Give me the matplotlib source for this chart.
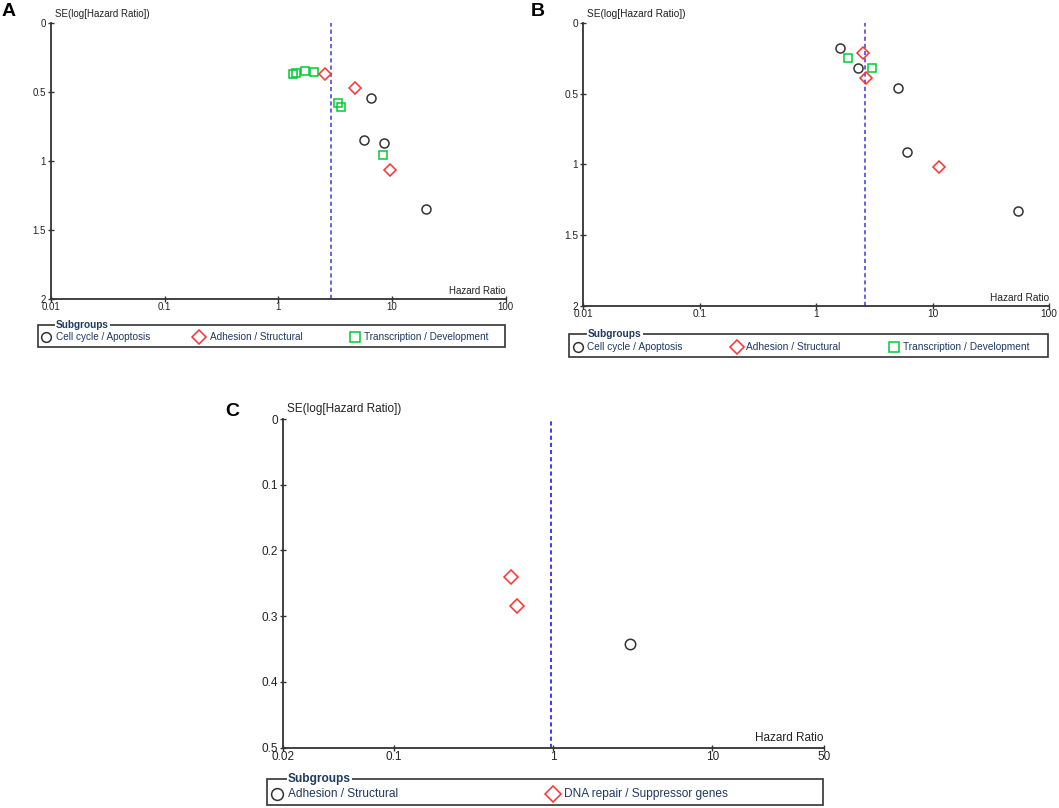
import matplotlib
matplotlib.use("Agg")
import matplotlib.pyplot as plt
from matplotlib.lines import Line2D
from matplotlib.patches import Rectangle

plt.rcParams["font.family"] = ["Liberation Sans", "DejaVu Sans"]

W, H = 1059, 808
TEXT_COL = "#222222"
LEG_COL = "#1f3864"
AX_COL = "#333333"

# ---- data ----
A_cell_hr = [6.58, 5.67, 8.56, 19.9]
A_cell_se = [0.543, 0.852, 0.871, 1.346]
A_adh_hr = [2.56, 4.73, 9.55]
A_adh_se = [0.374, 0.470, 1.069]
A_tr_hr = [1.355, 1.42, 1.71, 2.05, 3.33, 3.54, 8.34]
A_tr_se = [0.372, 0.362, 0.350, 0.355, 0.581, 0.610, 0.958]
A_pooled = 2.89

B_cell_hr = [1.61, 2.28, 5.09, 6.08, 54.5]
B_cell_se = [0.181, 0.320, 0.461, 0.911, 1.327]
B_adh_hr = [2.55, 2.69, 11.3]
B_adh_se = [0.212, 0.388, 1.019]
B_tr_hr = [1.87, 3.01]
B_tr_se = [0.249, 0.320]
B_pooled = 2.63

C_adh_hr = [3.02]
C_adh_se = [0.342]
C_dna_hr = [0.542, 0.597]
C_dna_se = [0.240, 0.2845]
C_pooled = 0.972

AB_xticks = [0.01, 0.1, 1, 10, 100]
AB_xlabels = ["0.01", "0.1", "1", "10", "100"]
AB_yticks = [0, 0.5, 1, 1.5, 2]
AB_ylabels = ["0", "0.5", "1", "1.5", "2"]
C_xticks = [0.02, 0.1, 1, 10, 50]
C_xlabels = ["0.02", "0.1", "1", "10", "50"]
C_yticks = [0, 0.1, 0.2, 0.3, 0.4, 0.5]
C_ylabels = ["0", "0.1", "0.2", "0.3", "0.4", "0.5"]

AB_groups = ["Cell cycle / Apoptosis", "Adhesion / Structural", "Transcription / Development"]
C_groups = ["Adhesion / Structural", "DNA repair / Suppressor genes"]

CIRCLE = dict(marker="o", mfc="none", mec="#333333", mew=1.1)
DIAMOND = dict(marker="D", mfc="none", mec="#ff3030", mew=1.1)
SQUARE = dict(marker="s", mfc="none", mec="#00cc33", mew=1.1)

fig = plt.figure(figsize=(W / 100, H / 100), dpi=100)


def px_axes(left, top, right, bottom):
    return fig.add_axes([left / W, 1 - bottom / H, (right - left) / W, (bottom - top) / H])


def funnel(ax, xlim, ylim, xticks, xlabels, yticks, ylabels, pooled, dash_col, fs):
    ax.set_xscale("log")
    ax.set_xlim(*xlim)
    ax.set_ylim(ylim[1], ylim[0])
    ax.set_xticks(xticks)
    ax.set_xticklabels(xlabels)
    ax.set_yticks(yticks)
    ax.set_yticklabels(ylabels)
    ax.minorticks_off()
    for s in ["top", "right"]:
        ax.spines[s].set_visible(False)
    for s in ["left", "bottom"]:
        ax.spines[s].set_color(AX_COL)
        ax.spines[s].set_linewidth(1.3)
    ax.tick_params(direction="inout", length=5, width=1.0, color=AX_COL,
                   labelsize=fs, labelcolor=TEXT_COL, pad=1)
    ax.tick_params(axis="x", pad=0)
    ax.patch.set_alpha(0)
    ax.axvline(pooled, color=dash_col, lw=1.2, ls=(0, (2.5, 1.8)), zorder=1)
    ax.text(0.008, 1.012, "SE(log[Hazard Ratio])", transform=ax.transAxes,
            ha="left", va="bottom", fontsize=fs, color=TEXT_COL)
    ax.text(1.0, 0.012, "Hazard Ratio", transform=ax.transAxes,
            ha="right", va="bottom", fontsize=fs, color=TEXT_COL)


# panel A
axA = px_axes(51, 22.7, 505.7, 299)
funnel(axA, (0.01, 100), (0, 2), AB_xticks, AB_xlabels, AB_yticks, AB_ylabels,
       A_pooled, "#4a4ae0", 7)
axA.plot(A_tr_hr, A_tr_se, ls="none", ms=5.5, **SQUARE)
axA.plot(A_adh_hr, A_adh_se, ls="none", ms=5.8, **DIAMOND)
axA.plot(A_cell_hr, A_cell_se, ls="none", ms=6.5, **CIRCLE)

# panel B
axB = px_axes(583, 22.7, 1049, 306)
funnel(axB, (0.01, 100), (0, 2), AB_xticks, AB_xlabels, AB_yticks, AB_ylabels,
       B_pooled, "#4a4ae0", 7.3)
axB.plot(B_tr_hr, B_tr_se, ls="none", ms=5.5, **SQUARE)
axB.plot(B_adh_hr, B_adh_se, ls="none", ms=5.8, **DIAMOND)
axB.plot(B_cell_hr, B_cell_se, ls="none", ms=6.5, **CIRCLE)

# panel C
axC = px_axes(282.5, 419, 823.8, 747.7)
funnel(axC, (0.02, 50), (0, 0.5), C_xticks, C_xlabels, C_yticks, C_ylabels,
       C_pooled, "#1a1aff", 8.5)
axC.plot(C_dna_hr, C_dna_se, ls="none", ms=7, **DIAMOND)
axC.plot(C_adh_hr, C_adh_se, ls="none", ms=7.5, **CIRCLE)

# overlay in pixel coordinates: panel letters + legend boxes
ov = fig.add_axes([0, 0, 1, 1])
ov.set_xlim(0, W)
ov.set_ylim(H, 0)
ov.axis("off")
ov.patch.set_alpha(0)

ov.text(2, 12, "A", fontsize=14, fontweight="bold", va="center", ha="left")
ov.text(531, 12, "B", fontsize=14, fontweight="bold", va="center", ha="left")
ov.text(225, 412, "C", fontsize=14, fontweight="bold", va="center", ha="left")


def draw_legend(x0, y0, x1, y1, title_x, mx_list, tx_list, labels, styles, fs, ms):
    ov.add_patch(Rectangle((x0, y0), x1 - x0, y1 - y0, fill=False,
                           ec="#333333", lw=1.2))
    ov.text(title_x, y0, "Subgroups", fontsize=fs, fontweight="bold", color=LEG_COL,
            ha="left", va="center", bbox=dict(fc="white", ec="none", pad=1.0))
    yc = (y0 + y1) / 2 + 1.5
    for mx, tx, label, st in zip(mx_list, tx_list, labels, styles):
        ov.add_line(Line2D([mx], [yc], ls="none", ms=ms, **st))
        ov.text(tx, yc, label, fontsize=fs, color=LEG_COL, ha="left", va="center")


draw_legend(38.3, 325, 505, 346.7, 56, [46, 199, 355], [56, 210, 364],
            AB_groups, [CIRCLE, DIAMOND, SQUARE], 7.2, 7)
draw_legend(569, 334, 1048.3, 356.7, 588, [578, 737, 894], [587, 746, 903],
            AB_groups, [CIRCLE, DIAMOND, SQUARE], 7.3, 7)
draw_legend(267.3, 779.3, 823.3, 805, 288, [277.3, 553.3], [288.3, 564],
            C_groups, [CIRCLE, DIAMOND], 8.6, 8.5)

fig.savefig("out.png", dpi=100)
